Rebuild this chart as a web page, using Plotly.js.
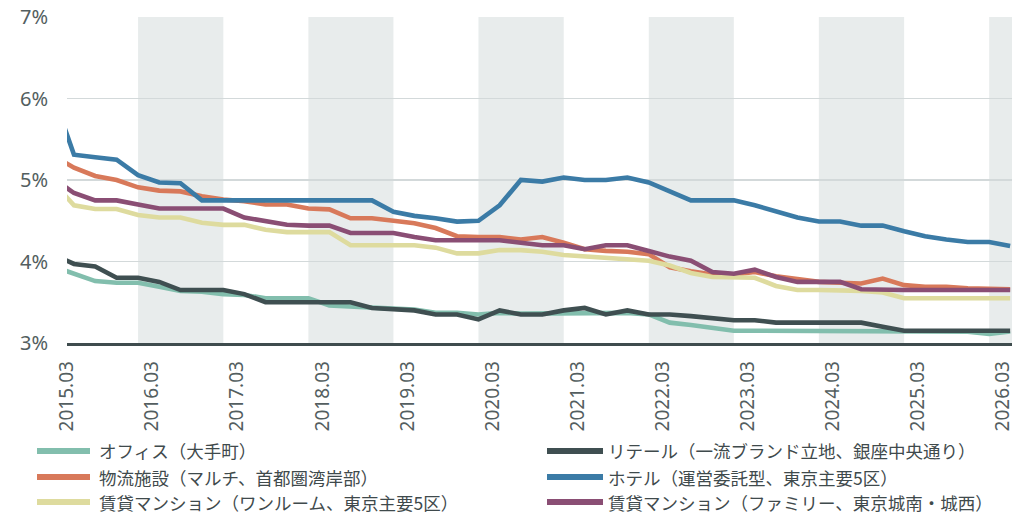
<!DOCTYPE html>
<html>
<head>
<meta charset="utf-8">
<script src="https://cdn.plot.ly/plotly-3.0.1.min.js"></script>
<style>
  html, body { margin: 0; padding: 0; background: #ffffff; }
  #chart { width: 1031px; height: 516px; }
</style>
</head>
<body>
<div id="chart"></div>
<script>
// ---- Data (quarter-end observation dates; the first one lies just left of the visible range) ----
const dates = [
  '2014-12-31',
  '2015-03-31','2015-06-30','2015-09-30','2015-12-31',
  '2016-03-31','2016-06-30','2016-09-30','2016-12-31',
  '2017-03-31','2017-06-30','2017-09-30','2017-12-31',
  '2018-03-31','2018-06-30','2018-09-30','2018-12-31',
  '2019-03-31','2019-06-30','2019-09-30','2019-12-31',
  '2020-03-31','2020-06-30','2020-09-30','2020-12-31',
  '2021-03-31','2021-06-30','2021-09-30','2021-12-31',
  '2022-03-31','2022-06-30','2022-09-30','2022-12-31',
  '2023-03-31','2023-06-30','2023-09-30','2023-12-31',
  '2024-03-31','2024-06-30','2024-09-30','2024-12-31',
  '2025-03-31','2025-06-30','2025-09-30','2025-12-31',
  '2026-03-31'
];

const office = [3.94,
  3.85,3.76,3.74,3.74, 3.69,3.64,3.63,3.60, 3.59,3.55,3.55,3.55, 3.46,3.45,3.43,3.42,
  3.41,3.37,3.37,3.35, 3.37,3.36,3.36,3.36, 3.37,3.36,3.37,3.35, 3.25,3.22,3.19,3.15,
  3.15,3.15,3.15,3.15, 3.15,3.15,3.15,3.15, 3.15,3.15,3.14,3.11, 3.14];

const retail = [4.09,
  3.97,3.94,3.80,3.80, 3.75,3.65,3.65,3.65, 3.60,3.50,3.50,3.50, 3.50,3.50,3.43,3.41,
  3.40,3.35,3.35,3.29, 3.40,3.35,3.35,3.40, 3.43,3.35,3.40,3.35, 3.35,3.33,3.30,3.28,
  3.28,3.25,3.25,3.25, 3.25,3.25,3.20,3.15, 3.15,3.15,3.15,3.15, 3.15];

const logistics = [5.30,
  5.15,5.05,5.00,4.91, 4.87,4.86,4.80,4.76, 4.74,4.70,4.70,4.65, 4.64,4.53,4.53,4.50,
  4.47,4.41,4.31,4.30, 4.30,4.27,4.30,4.23, 4.15,4.13,4.12,4.09, 3.93,3.88,3.84,3.84,
  3.87,3.82,3.78,3.75, 3.74,3.73,3.79,3.71, 3.69,3.69,3.67,3.66, 3.66];

const hotel = [6.05,
  5.31,5.28,5.25,5.06, 4.97,4.96,4.75,4.75, 4.75,4.75,4.75,4.75, 4.75,4.75,4.75,4.61,
  4.56,4.53,4.49,4.50, 4.69,5.00,4.98,5.03, 5.00,5.00,5.03,4.97, 4.86,4.75,4.75,4.75,
  4.69,4.61,4.54,4.49, 4.49,4.44,4.44,4.37, 4.31,4.27,4.24,4.24, 4.19];

const studio = [4.97,
  4.69,4.645,4.645,4.57, 4.54,4.54,4.475,4.45, 4.45,4.39,4.36,4.36, 4.36,4.20,4.20,4.20,
  4.20,4.17,4.10,4.10, 4.14,4.14,4.12,4.08, 4.06,4.05,4.03,4.01, 3.95,3.86,3.81,3.80,
  3.80,3.70,3.65,3.65, 3.65,3.64,3.62,3.55, 3.55,3.55,3.55,3.55, 3.55];

const family = [5.02,
  4.84,4.75,4.75,4.70, 4.65,4.65,4.65,4.65, 4.54,4.50,4.45,4.44, 4.44,4.35,4.35,4.35,
  4.30,4.26,4.26,4.26, 4.26,4.23,4.20,4.20, 4.15,4.20,4.20,4.13, 4.06,4.01,3.87,3.85,
  3.90,3.81,3.75,3.75, 3.75,3.66,3.65,3.65, 3.65,3.65,3.65,3.65, 3.65];

const seriesNames = [
  'オフィス（大手町）',
  'リテール（一流ブランド立地、銀座中央通り）',
  '物流施設（マルチ、首都圏湾岸部）',
  'ホテル（運営委託型、東京主要5区）',
  '賃貸マンション（ワンルーム、東京主要5区）',
  '賃貸マンション（ファミリー、東京城南・城西）'
];
const seriesValues = [office, retail, logistics, hotel, studio, family];

const yTickValues = [3, 4, 5, 6, 7];
const yTickLabels = ['3%', '4%', '5%', '6%', '7%'];
const shadedYears = [2016, 2018, 2020, 2022, 2024, 2026];

// ---- Styles ----
const colors = ['#82bead', '#3f4f51', '#d8795a', '#3b7ba6', '#dedb9e', '#8a4e74'];
const FONT = '"Noto Sans", "Noto Sans CJK JP", sans-serif';
const JFONT = '"Noto Sans CJK JP", "Noto Sans", sans-serif';
const TXT = '#535e60';

const W = 1031, H = 516;
const M = {l: 67, r: 19, t: 17, b: 173};
const plotW = W - M.l - M.r, plotH = H - M.t - M.b;
const px2x = px => (px - M.l) / plotW;
const py2y = py => (H - M.b - py) / plotH;

const traces = seriesValues.map((vals, i) => ({
  type: 'scatter',
  mode: 'lines',
  x: dates,
  y: vals,
  name: seriesNames[i],
  line: {color: colors[i], width: 4.6},
  hoverinfo: 'skip',
  showlegend: false
}));

const shapes = shadedYears.map(yr => ({
  type: 'rect', xref: 'x', yref: 'paper',
  x0: (yr - 1) + '-12-31', x1: yr + '-12-31', y0: 0, y1: 1,
  fillcolor: '#e8ecec', line: {width: 0}, layer: 'below'
}));

// manual legend: two columns, three rows
const legendCols = [{sw0: 37, sw1: 90, tx: 97}, {sw0: 547, sw1: 603, tx: 606}];
const legendRows = [451, 477, 502];
const annotations = [];
seriesNames.forEach((name, i) => {
  const col = legendCols[i % 2];
  const row = legendRows[Math.floor(i / 2)];
  shapes.push({
    type: 'line', xref: 'paper', yref: 'paper',
    x0: px2x(col.sw0), x1: px2x(col.sw1), y0: py2y(row), y1: py2y(row),
    line: {color: colors[i], width: 6}
  });
  annotations.push({
    xref: 'paper', yref: 'paper', x: px2x(col.tx), y: py2y(row),
    xanchor: 'left', yanchor: 'middle', showarrow: false,
    text: name, font: {family: JFONT, size: 17.5, color: '#3f4a4c'}
  });
});

const layout = {
  width: W, height: H,
  margin: M,
  paper_bgcolor: '#ffffff',
  plot_bgcolor: '#ffffff',
  showlegend: false,
  xaxis: {
    type: 'date',
    range: ['2015-03-01', '2026-04-08'],
    tick0: '2015-03-01',
    dtick: 'M12',
    tickformat: '%Y.%m',
    tickangle: -90,
    showgrid: false,
    zeroline: false,
    showline: true,
    linecolor: '#3f4c4e',
    linewidth: 2.5,
    ticks: '',
    ticklabelstandoff: 8,
    tickfont: {family: FONT, size: 19, color: TXT},
    fixedrange: true
  },
  yaxis: {
    range: [3, 7],
    tickmode: 'array',
    tickvals: yTickValues,
    ticktext: yTickLabels,
    showgrid: true,
    gridcolor: '#d3d9da',
    gridwidth: 1.3,
    zeroline: false,
    showline: false,
    ticks: '',
    ticklabelstandoff: 18,
    tickfont: {family: FONT, size: 20, color: TXT},
    fixedrange: true
  },
  shapes: shapes,
  annotations: annotations
};

Plotly.newPlot('chart', traces, layout, {displayModeBar: false, staticPlot: true});
</script>
</body>
</html>
